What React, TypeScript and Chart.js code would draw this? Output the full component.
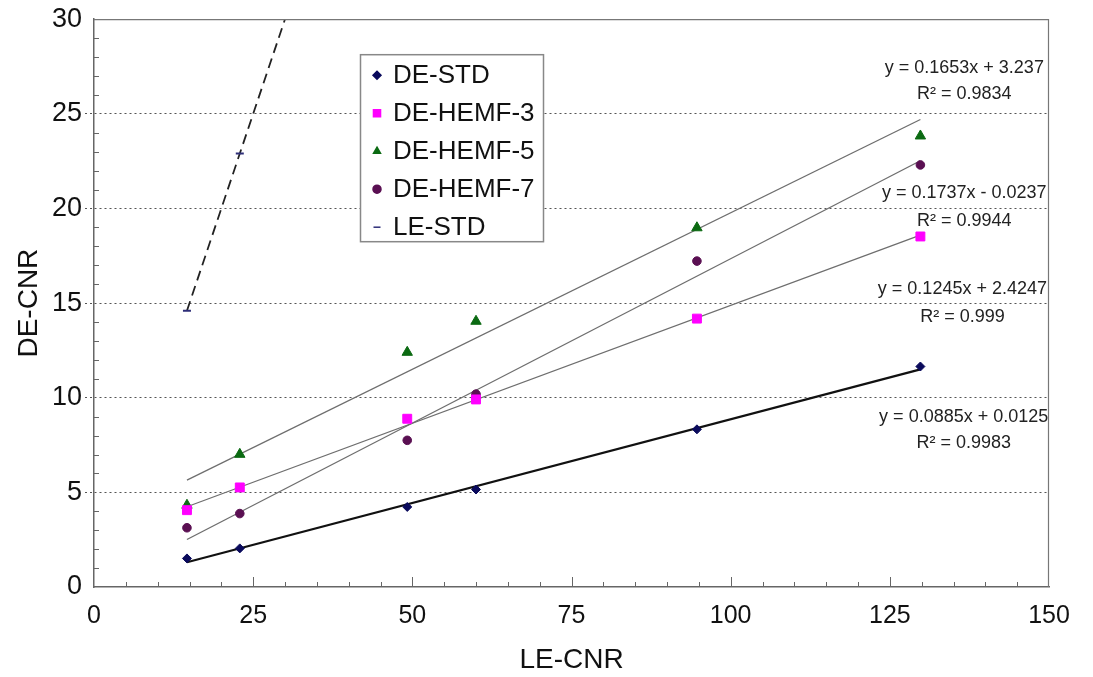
import React, { useEffect, useRef } from 'react';
import { Chart, registerables } from 'chart.js';
import { drawPoint } from 'chart.js/helpers';

Chart.register(...registerables);

// ---- data ----
const leCnr = [14.6, 22.9, 49.2, 60.0, 94.7, 129.8];
const deStd = [1.51, 2.04, 4.23, 5.15, 8.33, 11.65];
const deHemf3 = [4.06, 5.26, 8.89, 9.91, 14.18, 18.52];
const deHemf5 = [4.32, 7.01, 12.4, 14.04, 18.98, 23.83];
const deHemf7 = [3.13, 3.88, 7.75, 10.19, 17.22, 22.3];
const leStd = [14.6, 22.9, 49.2, 60.0, 94.7, 129.8];

const seriesNames = ['DE-STD', 'DE-HEMF-3', 'DE-HEMF-5', 'DE-HEMF-7', 'LE-STD'];

// trend-line end points (x at first and last sample)
const trendX = [14.6, 129.8];
const trendStd = [1.31, 11.5];
const trendHemf3 = [4.24, 18.59];
const trendHemf5 = [5.65, 24.7];
const trendHemf7 = [2.51, 22.52];

const equations = ['y = 0.1653x + 3.237', 'y = 0.1737x - 0.0237', 'y = 0.1245x + 2.4247', 'y = 0.0885x + 0.0125'];
const rSquared = ['R² = 0.9834', 'R² = 0.9944', 'R² = 0.999', 'R² = 0.9983'];
// label anchor (data coordinates) for each equation / R² pair
const eqLabelX = [136.7, 136.7, 136.4, 136.6];
const eqLabelY = [27.4, 20.82, 15.76, 8.96];
const r2LabelY = [26.05, 19.35, 14.29, 7.59];

const FONT = '"Liberation Sans", Arial, Helvetica, sans-serif';

const pts = (xs: number[], ys: number[]) => xs.map((x, i) => ({ x, y: ys[i] }));

const colors = {
  std: '#0a0a5c',
  h3: '#ff00ff',
  h5: '#0b6a12',
  h7: '#5a0f52',
  le: '#2e2e78',
};

const frameAndTicks = {
  id: 'frameAndTicks',
  afterDatasetsDraw(chart: any) {
    const { ctx, chartArea } = chart;
    const xs = chart.scales.x;
    const ys = chart.scales.y;
    ctx.save();
    ctx.strokeStyle = '#777';
    ctx.lineWidth = 1.2;
    ctx.beginPath();
    ctx.moveTo(chartArea.left, chartArea.top + 0.5);
    ctx.lineTo(chartArea.right - 0.5, chartArea.top + 0.5);
    ctx.lineTo(chartArea.right - 0.5, chartArea.bottom);
    ctx.stroke();
    ctx.strokeStyle = '#666';
    ctx.lineWidth = 1;
    ctx.beginPath();
    for (let v = 1; v < 30; v++) {
      if (v % 5 === 0) continue;
      const py = Math.round(ys.getPixelForValue(v)) + 0.5;
      ctx.moveTo(chartArea.left, py);
      ctx.lineTo(chartArea.left + 5, py);
    }
    for (let v = 5; v < 150; v += 5) {
      const px = Math.round(xs.getPixelForValue(v)) + 0.5;
      const len = v % 25 === 0 ? 10 : 5;
      ctx.moveTo(px, chartArea.bottom);
      ctx.lineTo(px, chartArea.bottom - len);
    }
    ctx.stroke();
    ctx.restore();
  },
};

const annotations = {
  id: 'eqAnnotations',
  afterDatasetsDraw(chart: any) {
    const { ctx } = chart;
    const xs = chart.scales.x;
    const ys = chart.scales.y;
    ctx.save();
    ctx.font = `18px ${FONT}`;
    ctx.fillStyle = '#222';
    ctx.textAlign = 'center';
    ctx.textBaseline = 'middle';
    equations.forEach((eq, i) => {
      const px = xs.getPixelForValue(eqLabelX[i]);
      ctx.fillText(eq, px, ys.getPixelForValue(eqLabelY[i]));
      ctx.fillText(rSquared[i], px, ys.getPixelForValue(r2LabelY[i]));
    });
    ctx.restore();
  },
};

const legendBox = {
  id: 'legendBox',
  afterDraw(chart: any) {
    const { ctx, chartArea } = chart;
    const bx = chartArea.left + 266;
    const by = chartArea.top + 35;
    const bw = 183;
    const bh = 187;
    ctx.save();
    ctx.fillStyle = '#fff';
    ctx.fillRect(bx, by, bw, bh);
    ctx.strokeStyle = '#888';
    ctx.lineWidth = 1.5;
    ctx.strokeRect(bx + 0.5, by + 0.5, bw, bh);
    ctx.font = `26px ${FONT}`;
    ctx.textBaseline = 'middle';
    ctx.textAlign = 'left';
    chart.data.datasets.slice(0, 5).forEach((ds: any, i: number) => {
      const cy = by + 21 + i * 38;
      ctx.fillStyle = ds.pointBackgroundColor;
      ctx.strokeStyle = ds.pointBorderColor;
      drawPoint(
        ctx,
        {
          pointStyle: ds.pointStyle,
          rotation: 0,
          radius: ds.pointStyle === 'line' ? 3.5 : ds.pointStyle === 'rect' ? 5 : 4,
          borderWidth: ds.pointStyle === 'line' ? 2 : 1,
        } as any,
        bx + 17,
        cy
      );
      ctx.fillStyle = '#111';
      ctx.fillText(ds.label, bx + 33, cy + 1);
    });
    ctx.restore();
  },
};

export default function App() {
  const canvasRef = useRef<HTMLCanvasElement | null>(null);

  useEffect(() => {
    if (!canvasRef.current) return;
    const scatter = (label: string, ys: number[], color: string, style: string, radius: number) => ({
      type: 'scatter' as const,
      label,
      data: pts(leCnr, ys),
      pointStyle: style,
      pointRadius: radius,
      pointBackgroundColor: color,
      pointBorderColor: color,
      pointBorderWidth: 1,
      backgroundColor: color,
      borderColor: color,
      showLine: false,
    });
    const trend = (ys: number[], color: string, width: number) => ({
      type: 'scatter' as const,
      label: '',
      data: pts(trendX, ys),
      showLine: true,
      borderColor: color,
      borderWidth: width,
      pointRadius: 0,
      pointHoverRadius: 0,
    });
    const chart = new Chart(canvasRef.current, {
      type: 'scatter',
      data: {
        datasets: [
          scatter(seriesNames[0], deStd, colors.std, 'rectRot', 4.5),
          scatter(seriesNames[1], deHemf3, colors.h3, 'rect', 6.3),
          scatter(seriesNames[2], deHemf5, colors.h5, 'triangle', 6),
          scatter(seriesNames[3], deHemf7, colors.h7, 'circle', 4.3),
          {
            type: 'scatter' as const,
            label: seriesNames[4],
            data: pts(leCnr, leStd),
            showLine: true,
            borderColor: '#222',
            borderWidth: 1.8,
            borderDash: [10, 6],
            pointStyle: 'line',
            pointRadius: 4,
            pointBorderWidth: 2,
            pointBorderColor: colors.le,
            pointBackgroundColor: colors.le,
          },
          trend(trendStd, '#111', 2.2),
          trend(trendHemf3, '#6e6e6e', 1.3),
          trend(trendHemf5, '#6e6e6e', 1.3),
          trend(trendHemf7, '#6e6e6e', 1.3),
        ] as any,
      },
      options: {
        responsive: false,
        animation: false,
        layout: { padding: { top: 18, right: 44, left: 0, bottom: 0 } },
        plugins: {
          legend: { display: false },
          tooltip: { enabled: false },
        },
        scales: {
          x: {
            type: 'linear',
            min: 0,
            max: 150,
            afterFit: (s: any) => {
              s.height = 90;
            },
            ticks: {
              stepSize: 25,
              padding: 14,
              color: '#111',
              font: { family: FONT, size: 25 },
            },
            grid: { display: false, drawTicks: false },
            border: { display: true, color: '#666', width: 1.5 },
            title: {
              display: true,
              text: 'LE-CNR',
              color: '#111',
              font: { family: FONT, size: 28 },
              padding: { top: 0, bottom: 0 },
            },
          },
          y: {
            type: 'linear',
            min: 0,
            max: 30,
            afterFit: (s: any) => {
              s.width = 94;
            },
            ticks: {
              stepSize: 5,
              padding: 3,
              color: '#111',
              font: { family: FONT, size: 27 },
            },
            grid: {
              drawTicks: true,
              tickLength: 9,
              color: (c: any) => (c.tick && (c.tick.value === 0 || c.tick.value === 30) ? 'rgba(0,0,0,0)' : '#555'),
              tickColor: (c: any) => (c.tick && (c.tick.value === 0 || c.tick.value === 30) ? 'rgba(0,0,0,0)' : '#555'),
              lineWidth: 1,
              tickBorderDash: [2, 3],
            },
            border: { display: true, color: '#666', width: 1.5, dash: [2, 3] },
            title: {
              display: true,
              text: 'DE-CNR',
              color: '#111',
              font: { family: FONT, size: 28 },
              padding: { top: 12, bottom: 0 },
            },
          },
        },
      } as any,
      plugins: [frameAndTicks, annotations, legendBox],
    });
    return () => chart.destroy();
  }, []);

  return (
    <div style={{ position: 'fixed', left: 0, top: 0, width: 1093, height: 677, background: '#fff' }}>
      <canvas ref={canvasRef} width={1093} height={677} style={{ width: 1093, height: 677 }} />
    </div>
  );
}
